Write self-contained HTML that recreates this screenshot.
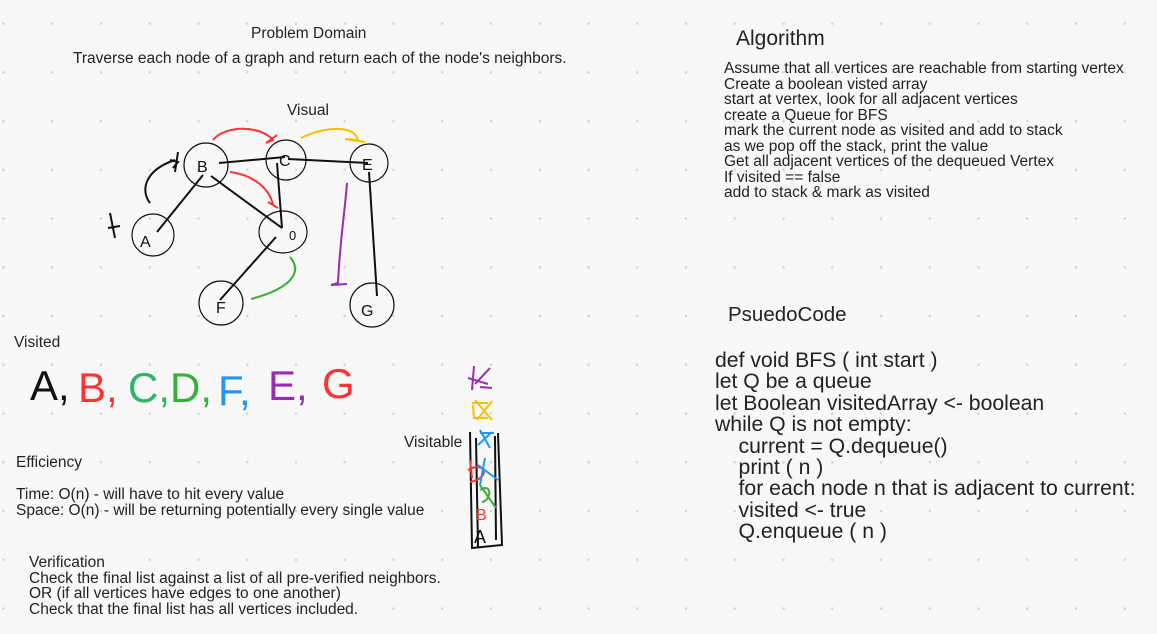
<!DOCTYPE html>
<html><head><meta charset="utf-8"><style>
html,body{margin:0;padding:0}
body{width:1157px;height:634px;background:#f8f8f8;position:relative;overflow:hidden;font-family:"Liberation Sans",sans-serif;color:#222}
.t{position:absolute;white-space:pre;font-size:15.5px;line-height:15.5px}
svg{position:absolute;left:0;top:0}
</style></head><body>
<svg width="1157" height="634">
<defs><pattern id="d" x="2" y="22" width="48.75" height="48.75" patternUnits="userSpaceOnUse"><circle cx="1.5" cy="1.5" r="1.3" fill="#d4d4d4"/></pattern></defs>
<rect width="1157" height="634" fill="url(#d)"/>
<g fill="none" stroke="#111" stroke-width="1.2">
<circle cx="206" cy="165" r="22"/><circle cx="286" cy="160" r="20"/><circle cx="369" cy="163" r="19"/>
<circle cx="153" cy="235" r="21"/><ellipse cx="283" cy="232" rx="24" ry="21"/><circle cx="221" cy="303" r="22"/><circle cx="372" cy="305" r="22"/>
</g>
<g fill="none" stroke="#111" stroke-width="2">
<line x1="219" y1="163" x2="285" y2="157"/><line x1="288" y1="159" x2="368" y2="163"/>
<line x1="157" y1="232" x2="203" y2="175"/><line x1="211" y1="176" x2="282" y2="228"/>
<line x1="277" y1="163" x2="282" y2="228"/><line x1="276" y1="237" x2="220" y2="300"/>
<line x1="369" y1="172" x2="377" y2="296"/>
<path d="M150 203 C140 190,145 170,175 160 M170 160 L178 162 L173 168 M178 152 L175 172"/>
<path d="M110 213 L115 238 M108 228 L120 226"/>
<text x="140" y="247" font-family="Liberation Sans" font-size="16" fill="#111" stroke="none">A</text>
<text x="197" y="172" font-size="16" fill="#111" stroke="none">B</text>
<text x="279" y="166" font-size="16" fill="#111" stroke="none">C</text>
<text x="362" y="170" font-size="16" fill="#111" stroke="none">E</text>
<text x="289" y="240" font-size="13" fill="#111" stroke="none">0</text>
<text x="216" y="313" font-size="16" fill="#111" stroke="none">F</text>
<text x="361" y="316" font-size="16" fill="#111" stroke="none">G</text>
</g>
<g fill="none" stroke-width="2">
<path d="M213 140 C225 125,260 125,273 140 L266 143 L277 135" stroke="#f33"/>
<path d="M230 172 C255 175,270 190,273 205 L268 202 L278 208" stroke="#f33"/>
<path d="M301 138 C325 126,355 125,358 140 L345 139 L365 142" stroke="#f9c000"/>
<path d="M347 183 C345 210,340 240,338 283 L331 285 L347 284" stroke="#9b2bb0"/>
<path d="M290 257 C305 275,285 290,251 299" stroke="#3aae3a"/>
</g>
<g font-size="42">
<text x="30" y="400" fill="#111">A,</text>
<text x="78" y="402" fill="#f33">B,</text>
<text x="128" y="402" fill="#2db36a">C,</text>
<text x="170" y="402" fill="#3aae3a">D,</text>
<text x="218" y="405" fill="#2196f3">F,</text>
<text x="268" y="400" fill="#9b2bb0">E,</text>
<text x="322" y="398" fill="#f33">G</text>
</g>
<g fill="none" stroke-width="2">
<path d="M470 432 L472 548 L502 545 L498 433 M476 438 L478 548 M495 436 L496 540" stroke="#111"/>
<text x="474" y="543" font-size="18" fill="#111">A</text>
<text x="476" y="520" font-size="16" fill="#f33">B</text>
<path d="M480 490 C492 482,492 500,482 502 M480 485 L496 508" stroke="#3aae3a"/>
<path d="M470 460 L472 478 M468 470 C485 460,492 478,470 482" stroke="#f33"/>
<path d="M478 465 L498 480 M485 458 L480 485" stroke="#2196f3"/>
<path d="M480 430 L490 448 M478 445 L492 432 M480 433 L494 433" stroke="#2196f3"/>
<path d="M472 403 L488 403 M473 405 L474 418 L488 418 M475 400 L492 420 M492 401 L477 420" stroke="#f9c000"/>
<path d="M474 366 L472 390 M468 378 L488 384 M475 384 L490 368 M480 387 L492 388" stroke="#9b2bb0"/>
</g>
</svg>
<div class="t" style="left:251px;top:26px">Problem Domain</div>
<div class="t" style="left:73px;top:51px">Traverse each node of a graph and return each of the node's neighbors.</div>
<div class="t" style="left:287px;top:103px">Visual</div>
<div class="t" style="left:14px;top:335px">Visited</div>
<div class="t" style="left:404px;top:435px">Visitable</div>
<div class="t" style="left:16px;top:455px">Efficiency</div>
<div class="t" style="left:16px;top:487px">Time: O(n) - will have to hit every value
Space: O(n) - will be returning potentially every single value</div>
<div class="t" style="left:29px;top:555px">Verification
Check the final list against a list of all pre-verified neighbors.
OR (if all vertices have edges to one another)
Check that the final list has all vertices included.</div>
<div class="t" style="left:736px;top:28px;font-size:21px;line-height:22px">Algorithm</div>
<div class="t" style="left:724px;top:61px">Assume that all vertices are reachable from starting vertex
Create a boolean visted array
start at vertex, look for all adjacent vertices
create a Queue for BFS
mark the current node as visited and add to stack
as we pop off the stack, print the value
Get all adjacent vertices of the dequeued Vertex
If visited == false
add to stack &amp; mark as visited</div>
<div class="t" style="left:728px;top:304px;font-size:20.5px;line-height:22px">PsuedoCode</div>
<div class="t" style="left:715px;top:350px;font-size:21.2px;line-height:21.4px">def void BFS ( int start )
let Q be a queue
let Boolean visitedArray &lt;- boolean
while Q is not empty:
    current = Q.dequeue()
    print ( n )
    for each node n that is adjacent to current:
    visited &lt;- true
    Q.enqueue ( n )</div>
</body></html>
